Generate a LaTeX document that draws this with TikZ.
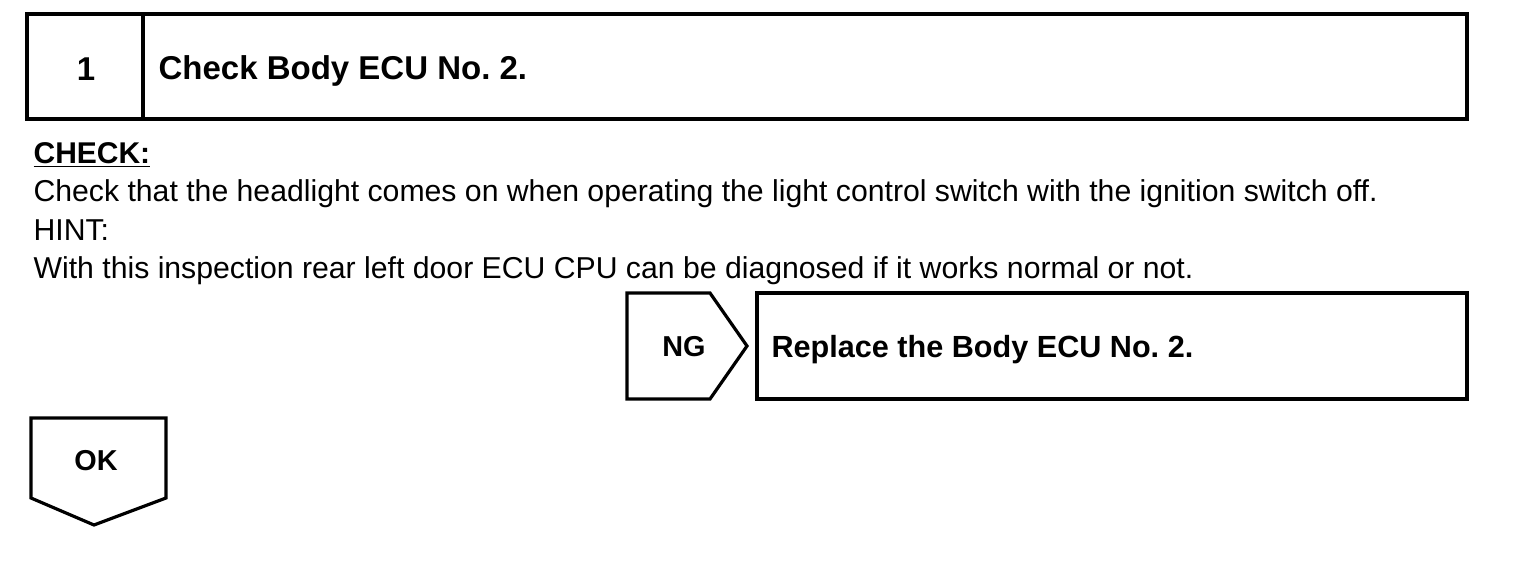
\documentclass[tikz,border=0pt]{standalone}
\usepackage{fontspec}
\setmainfont{Liberation Sans}
\frenchspacing

\begin{document}
\begin{tikzpicture}[x=0.5pt,y=-0.5pt,line width=1.6pt,
  headtext/.style={font=\fontsize{16.5}{18}\selectfont\bfseries},
  tagtext/.style={font=\fontsize{14.4}{16}\selectfont\bfseries},
  bodytext/.style={font=\fontsize{15.1}{17}\selectfont,anchor=base west,inner sep=0pt}]
\useasboundingbox (0,0) rectangle (1536,562);
% step box
\draw (27,14) rectangle (1467,119);
\draw (143,14) -- (143,119);
\node[headtext] (stepno) at (86,69) {1};
\node[headtext,anchor=base west,inner sep=0pt] (steptitle) at (157,79) {Check Body ECU No. 2.};
% check text
\node[bodytext,font=\fontsize{15}{17}\selectfont\bfseries] (check) at (32,163) {\underline{CHECK:}};
\node[bodytext] (checkline) at (32,201) {Check that the headlight comes on when operating the light control switch with the ignition switch off.};
\node[bodytext] (hint) at (32,240) {HINT:};
\node[bodytext] (hintline) at (32,278) {With this inspection rear left door ECU CPU can be diagnosed if it works normal or not.};
% NG branch
\draw (627,293) -- (710,293) -- (747,346) -- (710,399) -- (627,399) -- cycle;
\node[tagtext] (ng) at (684,347) {NG};
\draw (757,293) rectangle (1467,399);
\node[headtext,font=\fontsize{15.3}{17}\selectfont\bfseries,anchor=base west,inner sep=0pt] (replace) at (770,357) {Replace the Body ECU No. 2.};
% OK branch
\draw (31,418) -- (166,418) -- (166,498) -- (94,525) -- (31,498) -- cycle;
\node[tagtext] (ok) at (96,461) {OK};
\end{tikzpicture}
\end{document}
